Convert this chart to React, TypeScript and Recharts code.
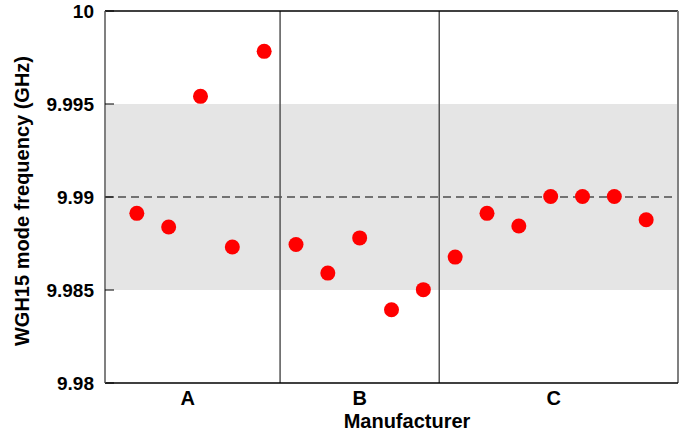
import React from 'react';
import {
  ScatterChart,
  Scatter,
  XAxis,
  YAxis,
  ReferenceArea,
  ReferenceLine,
} from 'recharts';

// manufacturers and the measured WGH15 mode frequency of each unit (GHz)
const manufacturers = ['A', 'B', 'C'];
const labelSlots = [2.6, 8, 14.1];
const freqA = [9.98912, 9.98839, 9.99541, 9.98731, 9.99783];
const freqB = [9.98745, 9.98591, 9.9878, 9.98394, 9.98502];
const freqC = [9.98677, 9.98912, 9.98844, 9.99003, 9.99003, 9.99003, 9.98878];
const yTicks = [9.98, 9.985, 9.99, 9.995, 10];
const nominal = 9.99;
const toleranceLow = 9.985;
const toleranceHigh = 9.995;

const groups = [freqA, freqB, freqC];

// lay units out one slot apart, groups side by side
const points: { x: number; y: number }[] = [];
const separators: number[] = [];
let slot = 0;
groups.forEach((g, gi) => {
  g.forEach((v) => {
    slot += 1;
    points.push({ x: slot, y: v });
  });
  if (gi < groups.length - 1) separators.push(slot + 0.5);
});
const xMax = slot + 1;

const FONT = '"Liberation Sans", Arial, Helvetica, sans-serif';

const Dot = (props: any) => (
  <circle cx={props.cx} cy={props.cy} r={7.5} fill="#ff0000" />
);

export default function App() {
  return (
    <div style={{ position: 'absolute', left: 0, top: 0, fontFamily: FONT }}>
      <ScatterChart
        width={688}
        height={433}
        margin={{ top: 11, right: 10, bottom: 0, left: 10 }}
      >
        <ReferenceArea
          y1={toleranceLow}
          y2={toleranceHigh}
          fill="#e5e5e5"
          fillOpacity={1}
          stroke="none"
        />
        <ReferenceLine
          y={nominal}
          stroke="#000"
          strokeWidth={1.2}
          strokeDasharray="8 5"
        />
        {separators.map((s) => (
          <ReferenceLine key={s} x={s} stroke="#555" strokeWidth={1.5} />
        ))}
        <ReferenceLine y={10} stroke="#000" strokeWidth={1.5} />
        <ReferenceLine x={xMax} stroke="#808080" strokeWidth={2} />
        <XAxis
          type="number"
          dataKey="x"
          domain={[0, xMax]}
          ticks={labelSlots}
          tickFormatter={(v: number) => manufacturers[labelSlots.indexOf(v)] ?? ''}
          tickLine={false}
          axisLine={{ stroke: '#000', strokeWidth: 1.5 }}
          tick={{ fill: '#000', fontSize: 20, fontWeight: 'bold', fontFamily: FONT }}
          height={50}
          label={{
            content: () => (
              <text
                x={407}
                y={428}
                textAnchor="middle"
                fill="#000"
                fontSize={20}
                fontWeight="bold"
                fontFamily={FONT}
              >
                Manufacturer
              </text>
            ),
          }}
        />
        <YAxis
          type="number"
          dataKey="y"
          domain={[9.98, 10]}
          ticks={yTicks}
          width={95}
          tickSize={-9}
          tickMargin={20}
          tickLine={{ stroke: '#000', strokeWidth: 1 }}
          axisLine={{ stroke: '#808080', strokeWidth: 2 }}
          tick={{ fill: '#000', fontSize: 19, fontWeight: 'bold', fontFamily: FONT }}
          label={{
            content: () => (
              <text
                x={29}
                y={201}
                transform="rotate(-90 29 201)"
                textAnchor="middle"
                fill="#000"
                fontSize={20}
                fontWeight="bold"
                fontFamily={FONT}
              >
                WGH15 mode frequency (GHz)
              </text>
            ),
          }}
        />
        <Scatter data={points} shape={<Dot />} isAnimationActive={false} />
      </ScatterChart>
    </div>
  );
}
